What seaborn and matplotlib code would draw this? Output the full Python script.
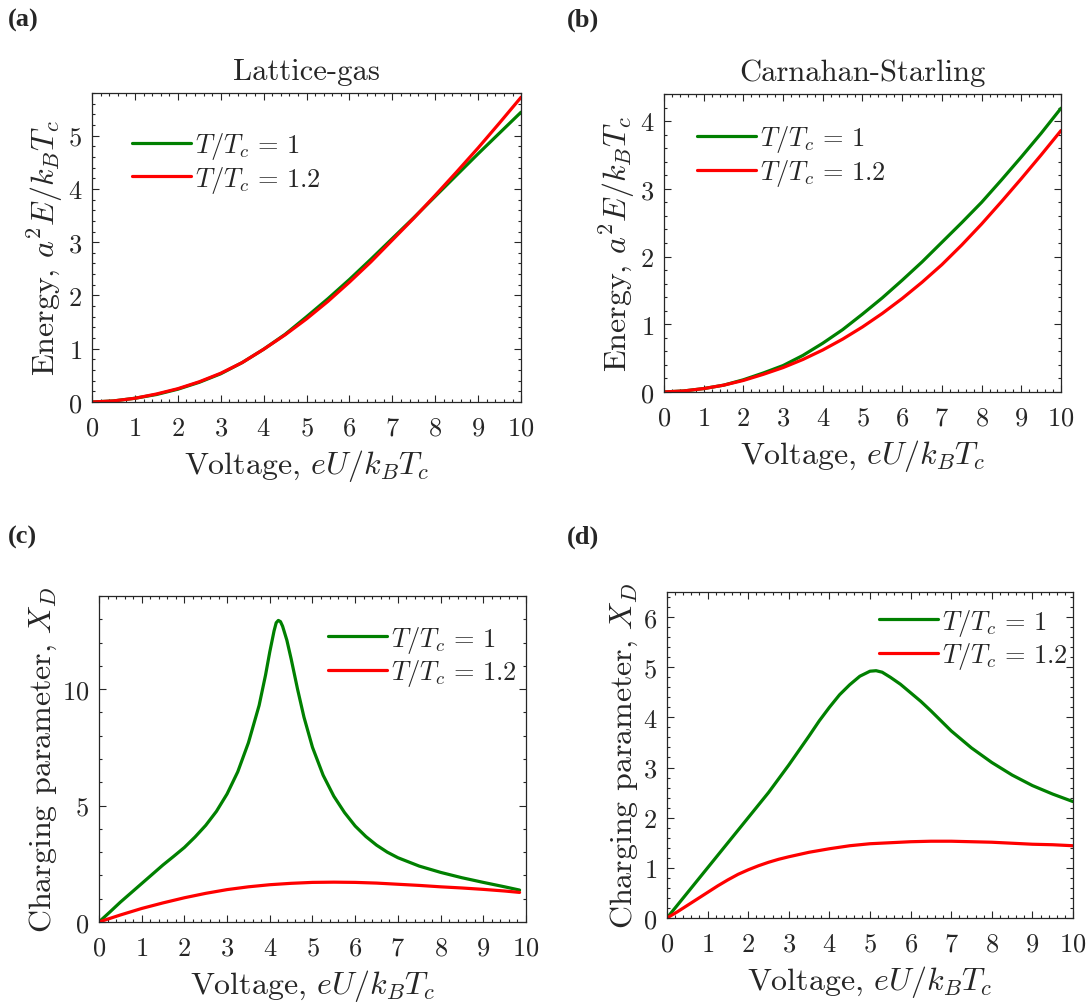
import matplotlib
matplotlib.use("Agg")
import matplotlib.pyplot as plt
import seaborn as sns
import pandas as pd
from matplotlib.ticker import MultipleLocator

# ---- data ----
labels = [r"$T/T_c\,=\,1$", r"$T/T_c\,=\,1.2$"]
colors = ["#008000", "#ff0000"]

u_half = [0, 0.5, 1, 1.5, 2, 2.5, 3, 3.5, 4, 4.5, 5, 5.5, 6, 6.5, 7, 7.5, 8, 8.5, 9, 9.5, 10]

# (a) Lattice-gas energy
lg_energy_t1 = [0, 0.02, 0.07, 0.14, 0.24, 0.37, 0.53, 0.74, 0.99, 1.27, 1.60, 1.94, 2.30,
                2.68, 3.07, 3.46, 3.86, 4.26, 4.66, 5.05, 5.44]
lg_energy_t12 = [0, 0.02, 0.07, 0.15, 0.25, 0.38, 0.54, 0.74, 0.99, 1.26, 1.56, 1.89, 2.25,
                 2.63, 3.04, 3.45, 3.88, 4.32, 4.77, 5.24, 5.72]

# (b) Carnahan-Starling energy
cs_energy_t1 = [0, 0.015, 0.05, 0.10, 0.18, 0.28, 0.39, 0.54, 0.72, 0.92, 1.15, 1.39, 1.65,
                1.92, 2.21, 2.50, 2.80, 3.13, 3.47, 3.82, 4.19]
cs_energy_t12 = [0, 0.015, 0.05, 0.10, 0.17, 0.26, 0.36, 0.48, 0.62, 0.78, 0.96, 1.16, 1.38,
                 1.62, 1.88, 2.17, 2.48, 2.81, 3.15, 3.50, 3.86]

# (c) Lattice-gas charging parameter
lg_u_t1 = [0, 0.25, 0.5, 0.75, 1, 1.25, 1.5, 1.75, 2, 2.25, 2.5, 2.75, 3, 3.25, 3.5, 3.75,
           3.9, 4.0, 4.1, 4.15, 4.2, 4.25, 4.3, 4.4, 4.5, 4.65, 4.8, 5.0, 5.25, 5.5, 5.75,
           6, 6.25, 6.5, 6.75, 7, 7.5, 8, 8.5, 9, 9.5, 9.85]
lg_xd_t1 = [0, 0.42, 0.85, 1.25, 1.65, 2.05, 2.45, 2.82, 3.2, 3.65, 4.15, 4.75, 5.5, 6.45,
            7.7, 9.3, 10.6, 11.6, 12.5, 12.85, 12.95, 12.9, 12.7, 12.1, 11.3, 10.0, 8.8, 7.5,
            6.3, 5.4, 4.7, 4.12, 3.67, 3.3, 3.0, 2.76, 2.4, 2.13, 1.9, 1.7, 1.51, 1.37]
lg_u_t12 = [0, 0.5, 1, 1.5, 2, 2.5, 3, 3.5, 4, 4.5, 5, 5.5, 6, 6.5, 7, 7.5, 8, 8.5, 9, 9.5, 9.85]
lg_xd_t12 = [0, 0.3, 0.58, 0.82, 1.04, 1.23, 1.39, 1.51, 1.60, 1.66, 1.70, 1.71, 1.70, 1.67,
             1.62, 1.57, 1.51, 1.46, 1.40, 1.33, 1.27]

# (d) Carnahan-Starling charging parameter
cs_u_t1 = [0, 0.5, 1, 1.5, 2, 2.5, 3, 3.5, 3.75, 4, 4.25, 4.5, 4.75, 5, 5.15, 5.3, 5.5, 5.75,
           6, 6.25, 6.5, 6.75, 7, 7.5, 8, 8.5, 9, 9.5, 10]
cs_xd_t1 = [0, 0.5, 1.0, 1.5, 2.0, 2.5, 3.05, 3.63, 3.93, 4.2, 4.45, 4.65, 4.82, 4.92, 4.93,
            4.9, 4.8, 4.66, 4.49, 4.32, 4.13, 3.93, 3.73, 3.39, 3.10, 2.85, 2.64, 2.47, 2.32]
cs_u_t12 = [0, 0.25, 0.5, 0.75, 1, 1.25, 1.5, 1.75, 2, 2.25, 2.5, 2.75, 3, 3.5, 4, 4.5, 5,
            5.5, 6, 6.5, 7, 7.5, 8, 8.5, 9, 9.5, 10]
cs_xd_t12 = [0, 0.12, 0.25, 0.38, 0.51, 0.64, 0.76, 0.87, 0.96, 1.04, 1.11, 1.17, 1.22, 1.31,
             1.38, 1.44, 1.48, 1.50, 1.52, 1.53, 1.53, 1.52, 1.51, 1.49, 1.47, 1.46, 1.44]

xlabel = r"Voltage, $eU/k_BT_c$"

sns.set_style("ticks")
plt.rcParams["font.family"] = ["cmr10"]
plt.rcParams["mathtext.fontset"] = "cm"
plt.rcParams["axes.formatter.use_mathtext"] = True
plt.rcParams["axes.unicode_minus"] = False

fig = plt.figure(figsize=(10.89, 10.04), dpi=100)

rects = {
    "a": [0.0845, 0.5986, 0.394, 0.3078],
    "b": [0.6097, 0.6086, 0.3646, 0.2968],
    "c": [0.0909, 0.0807, 0.3921, 0.3247],
    "d": [0.6125, 0.0847, 0.3728, 0.3247],
}

panels = [
    ("a", [(u_half, lg_energy_t1), (u_half, lg_energy_t12)], 5.8, 1, 0.2,
     r"Energy, $a^2E/k_BT_c$", "Lattice-gas", (0.093, 0.88)),
    ("b", [(u_half, cs_energy_t1), (u_half, cs_energy_t12)], 4.4, 1, 0.2,
     r"Energy, $a^2E/k_BT_c$", "Carnahan-Starling", (0.083, 0.902)),
    ("c", [(lg_u_t1, lg_xd_t1), (lg_u_t12, lg_xd_t12)], 14, 5, 1,
     r"Charging parameter, $X_D$", None, (0.537, 0.915)),
    ("d", [(cs_u_t1, cs_xd_t1), (cs_u_t12, cs_xd_t12)], 6.5, 1, 0.2,
     r"Charging parameter, $X_D$", None, (0.522, 0.955)),
]

for key, series, ymax, ymaj, ymin, ylabel, title, legpos in panels:
    ax = fig.add_axes(rects[key])
    for (xs, ys), lab, col in zip(series, labels, colors):
        df = pd.DataFrame({"u": xs, "v": ys})
        sns.lineplot(data=df, x="u", y="v", ax=ax, color=col, linewidth=2.3, label=lab)
    ax.set_xlim(0, 10)
    ax.set_ylim(0, ymax)
    ax.xaxis.set_major_locator(MultipleLocator(1))
    ax.xaxis.set_minor_locator(MultipleLocator(0.2))
    ax.yaxis.set_major_locator(MultipleLocator(ymaj))
    ax.yaxis.set_minor_locator(MultipleLocator(ymin))
    ax.tick_params(which="both", direction="in", top=True, right=True,
                   color="#262626", labelcolor="#262626", labelsize=19, width=0.8)
    ax.tick_params(which="major", length=5)
    ax.tick_params(which="minor", length=2.5)
    ax.tick_params(axis="x", which="major", pad=10)
    ax.tick_params(axis="y", which="major", pad=7)
    for sp in ax.spines.values():
        sp.set_color("#262626")
        sp.set_linewidth(0.9)
    ax.set_xlabel(xlabel, fontsize=23, color="#262626", labelpad=5)
    ax.set_ylabel(ylabel, fontsize=23, color="#262626", labelpad=2)
    if title:
        ax.set_title(title, fontsize=22, pad=10)
    ax.legend(loc="upper left", bbox_to_anchor=legpos, frameon=False, fontsize=19,
              handlelength=2.24, handletextpad=0.15, labelspacing=0.1, borderaxespad=0,
              borderpad=0)

for key, (x, y) in {"a": (8, 20), "b": (567, 20), "c": (8, 537), "d": (567, 537)}.items():
    fig.text(x / 1089, 1 - y / 1004, f"({key})", fontsize=19, fontweight="bold",
             family="Liberation Serif", va="center", ha="left")

fig.savefig("out.png", dpi=100)
